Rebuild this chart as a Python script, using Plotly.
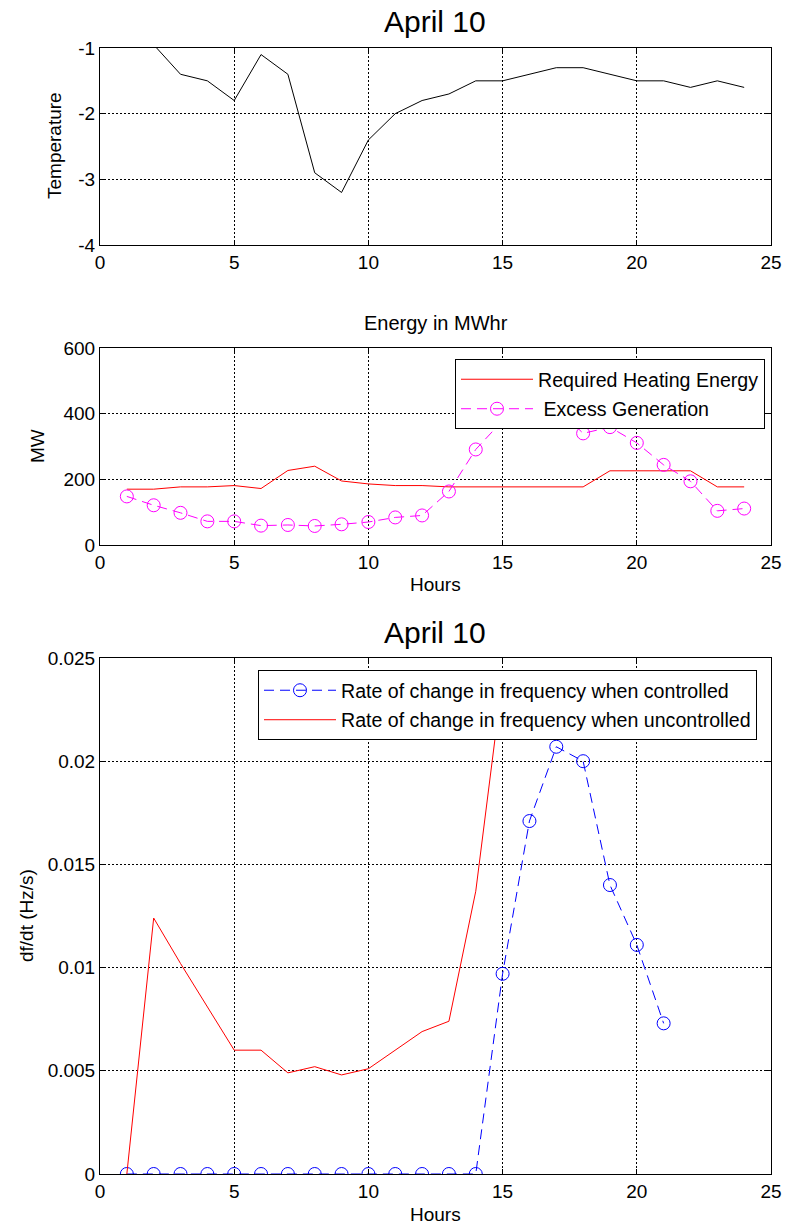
import plotly.graph_objects as go

# ---- data ----
hours = list(range(1, 25))
temperature = [-0.8, -0.95, -1.4, -1.5, -1.8, -1.1, -1.4, -2.9, -3.2, -2.4, -2.0, -1.8,
               -1.7, -1.5, -1.5, -1.4, -1.3, -1.3, -1.4, -1.5, -1.5, -1.6, -1.5, -1.6]

heating_energy = [170, 170, 177, 177, 181, 172, 227, 240, 195, 186, 181, 181,
                  177, 177, 177, 177, 177, 177, 226, 226, 226, 226, 177, 177]
excess_generation = [148, 121, 98, 72, 72, 59, 61, 58, 63, 70, 84, 90,
                     163, 291, 379, 440, 420, 340, 359, 311, 244, 194, 104, 111]

controlled_hours = list(range(1, 22))
rocof_controlled = [0, 0, 0, 0, 0, 0, 0, 0, 0, 0, 0, 0, 0, 0,
                    0.0097, 0.0171, 0.0207, 0.0200, 0.0140, 0.0111, 0.0073]
uncontrolled_hours = list(range(1, 16))
rocof_uncontrolled = [0, 0.0124, 0.0102, 0.0081, 0.0060, 0.0060, 0.0049, 0.0052, 0.0048, 0.0051,
                      0.0060, 0.0069, 0.0074, 0.0137, 0.0240]

x_ticks = [0, 5, 10, 15, 20, 25]
temp_ticks = [-4, -3, -2, -1]
temp_ticktext = ["-4", "-3", "-2", "-1"]
mw_ticks = [0, 200, 400, 600]
rate_ticks = [0, 0.005, 0.01, 0.015, 0.02, 0.025]
rate_ticktext = ["0", "0.005", "0.01", "0.015", "0.02", "0.025"]

# ---- layout helpers (pixel -> paper) ----
W, H = 787, 1225
FONT = "Liberation Sans, Arial, Helvetica, sans-serif"


def px(x):
    return x / W


def py(y):
    return 1 - y / H


X_DOM = [px(100), px(771)]
DASH = "10px,6px"

fig = go.Figure()

# top: temperature
fig.add_trace(go.Scatter(x=hours, y=temperature, mode="lines",
                         line=dict(color="black", width=1),
                         xaxis="x", yaxis="y", showlegend=False))

# middle: energy
fig.add_trace(go.Scatter(x=hours, y=heating_energy, mode="lines",
                         name="Required Heating Energy", legendgroup="a",
                         line=dict(color="#ff0000", width=1),
                         xaxis="x2", yaxis="y2", legend="legend"))
fig.add_trace(go.Scatter(x=hours, y=excess_generation, mode="lines+markers",
                         name=" Excess Generation", legendgroup="b",
                         line=dict(color="#ff00ff", width=1, dash=DASH),
                         marker=dict(symbol="circle-open", size=13, color="#ff00ff",
                                     line=dict(width=1)),
                         xaxis="x2", yaxis="y2", legend="legend"))

# bottom: rate of change of frequency
fig.add_trace(go.Scatter(x=controlled_hours, y=rocof_controlled, mode="lines+markers",
                         name="Rate of change in frequency when controlled", legendgroup="c",
                         line=dict(color="#0000ff", width=1, dash=DASH),
                         marker=dict(symbol="circle-open", size=13, color="#0000ff",
                                     line=dict(width=1)),
                         xaxis="x3", yaxis="y3", legend="legend2"))
fig.add_trace(go.Scatter(x=uncontrolled_hours, y=rocof_uncontrolled, mode="lines",
                         name="Rate of change in frequency when uncontrolled", legendgroup="d",
                         line=dict(color="#ff0000", width=1),
                         xaxis="x3", yaxis="y3", legend="legend2"))

axis_common = dict(showline=True, linecolor="black", linewidth=1, mirror="ticks",
                   ticks="inside", ticklen=5, tickcolor="black",
                   showgrid=True, gridcolor="black", gridwidth=1, griddash="2px,2px",
                   zeroline=False, automargin=False,
                   tickfont=dict(family=FONT, size=19, color="black"))

xax = dict(axis_common, range=[0, 25], tickvals=x_ticks, domain=X_DOM)

legend_common = dict(xanchor="right", yanchor="top", bordercolor="black", borderwidth=1,
                     bgcolor="white", itemwidth=72, tracegroupgap=1,
                     font=dict(family=FONT, size=19.6, color="black"))

fig.update_layout(
    width=W, height=H, autosize=False,
    margin=dict(l=0, r=0, t=0, b=0, pad=0, autoexpand=False),
    paper_bgcolor="white", plot_bgcolor="white",
    font=dict(family=FONT, color="black"),
    xaxis=dict(xax, anchor="y"),
    yaxis=dict(axis_common, range=[-4, -1], tickvals=temp_ticks, ticktext=temp_ticktext,
               domain=[py(245), py(48)], anchor="x"),
    xaxis2=dict(xax, anchor="y2"),
    yaxis2=dict(axis_common, range=[0, 600], tickvals=mw_ticks,
                domain=[py(545), py(348)], anchor="x2"),
    xaxis3=dict(xax, anchor="y3"),
    yaxis3=dict(axis_common, range=[0, 0.025], tickvals=rate_ticks, ticktext=rate_ticktext,
                domain=[py(1174), py(658)], anchor="x3"),
    legend=dict(legend_common, x=px(765), y=py(359)),
    legend2=dict(legend_common, x=px(757), y=py(670)),
)

annotations = [
    dict(text="April 10", x=px(435), y=py(22), size=30),
    dict(text="Energy in MWhr", x=px(436), y=py(323), size=20),
    dict(text="Hours", x=px(435), y=py(585), size=19),
    dict(text="April 10", x=px(435), y=py(632), size=30),
    dict(text="Hours", x=px(435), y=py(1214), size=19),
    dict(text="Temperature", x=px(55), y=py(146), size=19, angle=-90),
    dict(text="MW", x=px(38), y=py(446), size=19, angle=-90),
    dict(text="df/dt (Hz/s)", x=px(26), y=py(916), size=19, angle=-90),
]
for a in annotations:
    fig.add_annotation(text=a["text"], x=a["x"], y=a["y"], xref="paper", yref="paper",
                       xanchor="center", yanchor="middle", showarrow=False,
                       textangle=a.get("angle", 0),
                       font=dict(family=FONT, size=a["size"], color="black"))

fig.write_html("out.html")
